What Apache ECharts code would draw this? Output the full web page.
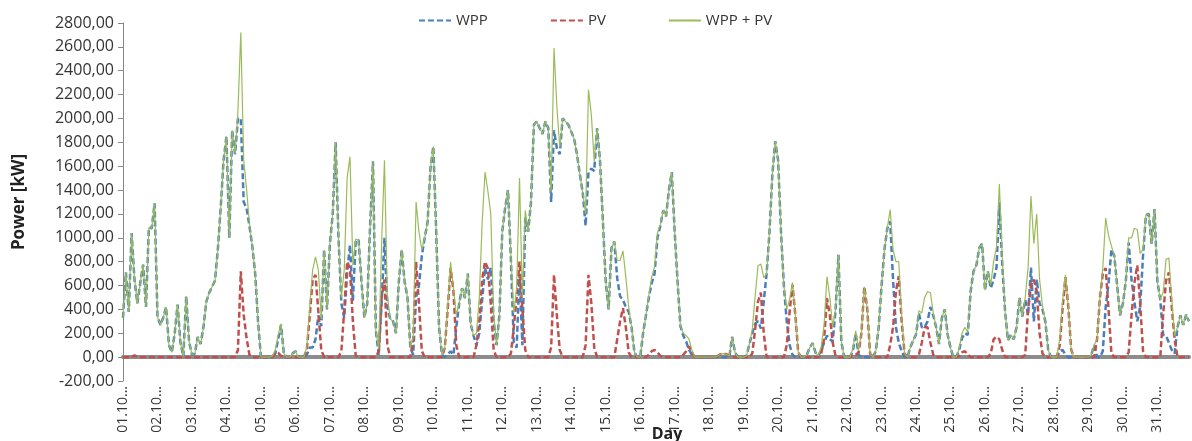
<!DOCTYPE html>
<html>
<head>
<meta charset="utf-8">
<script src="https://cdn.jsdelivr.net/npm/echarts@6/dist/echarts.min.js"></script>
<style>
  html, body { margin: 0; padding: 0; background: #fff; }
  #chart { width: 1192px; height: 441px; }
</style>
</head>
<body>
<div id="chart"></div>
<script>
// October, one value every 2 hours (00:00 ... 22:00), one line per day
const days = ['01.10.', '02.10.', '03.10.', '04.10.', '05.10.', '06.10.', '07.10.', '08.10.',
  '09.10.', '10.10.', '11.10.', '12.10.', '13.10.', '14.10.', '15.10.', '16.10.', '17.10.',
  '18.10.', '19.10.', '20.10.', '21.10.', '22.10.', '23.10.', '24.10.', '25.10.', '26.10.',
  '27.10.', '28.10.', '29.10.', '30.10.', '31.10.']
const hours = ['00:00', '02:00', '04:00', '06:00', '08:00', '10:00', '12:00', '14:00', '16:00', '18:00', '20:00', '22:00']

// wind power plant [kW]
const wpp = [
  330, 710, 380, 1040, 650, 450, 620, 775, 420, 1085, 1080, 1290,
  340, 270, 330, 420, 100, 40, 200, 440, 120, 5, 510, 130,
  20, 30, 170, 110, 250, 466, 540, 590, 640, 900, 1250, 1650,
  1850, 1000, 1900, 1700, 2000, 2000, 1300, 1250, 1100, 930, 700, 300,
  0, 0, 0, 0, 10, 30, 150, 270, 30, 0, 0, 30,
  50, 0, 0, 0, 20, 80, 80, 150, 350, 260, 900, 400,
  950, 1200, 1800, 1000, 450, 330, 700, 940, 470, 980, 980, 634,
  330, 450, 1100, 1640, 220, 20, 450, 1000, 420, 320, 300, 200,
  634, 900, 634, 500, 80, 20, 500, 600, 850, 1000, 1130, 1580,
  1765, 1053, 250, 20, 0, 20, 50, 20, 250, 450, 578, 494,
  700, 280, 180, 100, 200, 480, 750, 650, 750, 300, 100, 350,
  1053, 1250, 1400, 820, 120, 80, 700, 100, 1170, 1050, 1300, 1947,
  1975, 1920, 1870, 1975, 1920, 1300, 1900, 1750, 1700, 2000, 1975, 1947,
  1890, 1830, 1700, 1530, 1380, 1100, 1550, 1580, 1560, 1920, 1650, 1150,
  634, 400, 914, 969, 662, 510, 480, 420, 380, 250, 40, 0,
  0, 200, 350, 500, 620, 700, 1000, 1100, 1230, 1180, 1400, 1550,
  1050, 634, 260, 180, 130, 60, 20, 0, 0, 0, 0, 0,
  0, 0, 0, 0, 0, 0, 0, 0, 170, 40, 0, 0,
  0, 10, 110, 200, 280, 300, 240, 466, 700, 1050, 1530, 1810,
  1650, 1053, 600, 300, 103, 20, 0, 0, 0, 0, 20, 80,
  117, 40, 10, 60, 120, 180, 150, 130, 400, 858, 130, 0,
  0, 0, 50, 200, 20, 0, 0, 0, 0, 0, 50, 250,
  600, 900, 1080, 1137, 650, 250, 120, 50, 0, 0, 80, 140,
  190, 370, 250, 250, 300, 420, 350, 250, 110, 330, 400, 190,
  78, 0, 0, 60, 160, 200, 187, 550, 720, 770, 914, 950,
  560, 720, 578, 650, 750, 1300, 780, 380, 140, 187, 150, 250,
  500, 340, 480, 350, 750, 300, 650, 450, 400, 300, 60, 0,
  0, 0, 50, 60, 20, 0, 0, 0, 0, 0, 0, 0,
  0, 20, 100, 0, 0, 50, 420, 620, 900, 850, 600, 350,
  450, 634, 960, 650, 460, 300, 420, 850, 1190, 1200, 950, 1240,
  634, 480, 187, 180, 120, 60, 30, 250, 350, 271, 355, 300
]

// photovoltaics [kW]
const pv = [
  0, 0, 0, 0, 15, 0, 0, 0, 0, 0, 0, 0,
  0, 0, 0, 0, 0, 0, 0, 0, 0, 0, 0, 0,
  0, 0, 0, 0, 0, 0, 0, 0, 0, 0, 0, 0,
  0, 0, 0, 0, 60, 720, 355, 160, 20, 0, 0, 0,
  0, 0, 0, 0, 0, 30, 35, 10, 0, 0, 0, 0,
  0, 0, 0, 0, 70, 350, 650, 690, 380, 60, 0, 0,
  0, 0, 0, 0, 50, 400, 800, 740, 300, 10, 0, 0,
  0, 0, 0, 0, 0, 50, 500, 650, 100, 0, 0, 0,
  0, 0, 0, 0, 0, 150, 800, 450, 50, 0, 0, 0,
  0, 0, 0, 0, 80, 400, 746, 560, 100, 0, 0, 0,
  0, 0, 0, 100, 300, 650, 800, 740, 450, 60, 0, 0,
  0, 0, 0, 30, 250, 500, 800, 400, 60, 0, 0, 0,
  0, 0, 0, 0, 0, 80, 690, 350, 60, 0, 0, 0,
  0, 0, 0, 0, 0, 100, 690, 450, 80, 0, 0, 0,
  0, 0, 0, 0, 150, 300, 411, 250, 40, 0, 0, 0,
  0, 0, 0, 20, 50, 60, 40, 10, 0, 0, 0, 0,
  0, 0, 0, 20, 50, 90, 40, 0, 0, 0, 0, 0,
  0, 0, 0, 10, 25, 30, 25, 10, 0, 0, 0, 0,
  0, 0, 0, 30, 230, 466, 540, 200, 0, 0, 0, 0,
  0, 0, 0, 100, 380, 606, 350, 40, 0, 0, 0, 0,
  0, 0, 0, 30, 150, 494, 350, 120, 10, 0, 0, 0,
  0, 0, 20, 20, 40, 200, 590, 411, 30, 0, 0, 0,
  0, 0, 0, 100, 250, 550, 680, 300, 30, 0, 0, 0,
  0, 20, 120, 250, 250, 120, 20, 0, 0, 0, 0, 0,
  0, 0, 0, 10, 40, 50, 20, 0, 0, 0, 0, 0,
  0, 0, 30, 150, 170, 150, 60, 0, 0, 0, 0, 0,
  0, 0, 20, 400, 600, 650, 550, 200, 30, 0, 0, 0,
  0, 0, 100, 411, 670, 420, 60, 0, 0, 0, 0, 0,
  0, 0, 0, 150, 500, 700, 746, 400, 30, 0, 0, 0,
  0, 0, 40, 350, 620, 770, 450, 50, 0, 0, 0, 0,
  0, 0, 355, 640, 710, 420, 150, 0, 0, 0, 0, 0
]

const categories = []
days.forEach(d => hours.forEach(h => categories.push(d + ' ' + h)))
const total = wpp.map((v, i) => v + pv[i])

const font = 'Open Sans'
const chart = echarts.init(document.getElementById('chart'))
chart.setOption({
  animation: false,
  grid: { left: 123, right: 3, top: 23, bottom: 60, containLabel: false, outerBoundsMode: 'none' },
  legend: {
    data: ['WPP', 'PV', 'WPP + PV'],
    top: 8,
    left: 413,
    itemWidth: 32,
    itemHeight: 10,
    itemGap: 62,
    itemStyle: { opacity: 0 },
    textStyle: { fontFamily: font, fontSize: 15, color: '#333' }
  },
  xAxis: {
    type: 'category',
    data: categories,
    boundaryGap: false,
    axisLine: { onZero: true, lineStyle: { color: '#8c8c8c', width: 4 } },
    axisTick: { show: false },
    axisLabel: {
      interval: 11,
      rotate: 90,
      margin: 5,
      fontFamily: font,
      fontSize: 14,
      color: '#333',
      formatter: v => v.slice(0, 5) + '...'
    },
    name: 'Day',
    nameLocation: 'middle',
    nameGap: 45,
    nameMoveOverlap: false,
    nameTextStyle: { fontFamily: font, fontSize: 16, fontWeight: 'bold', color: '#222', padding: [0, 0, 0, 22] }
  },
  yAxis: {
    type: 'value',
    min: -200,
    max: 2800,
    interval: 200,
    axisLine: { show: true, lineStyle: { color: '#868686' } },
    axisTick: { show: true, length: 5, lineStyle: { color: '#868686' } },
    splitLine: { show: false },
    axisLabel: {
      margin: 9,
      fontFamily: font,
      fontSize: 16,
      color: '#333',
      formatter: v => v.toFixed(2).replace('.', ',')
    },
    name: 'Power [kW]',
    nameLocation: 'middle',
    nameGap: 95,
    nameMoveOverlap: false,
    nameTextStyle: { fontFamily: font, fontSize: 17, fontWeight: 'bold', color: '#222' }
  },
  series: [
    {
      name: 'WPP',
      type: 'line',
      data: wpp,
      symbol: 'none',
      itemStyle: { color: '#4a7ebb' },
      lineStyle: { color: '#4a7ebb', width: 2.5, type: [6, 3] }
    },
    {
      name: 'PV',
      type: 'line',
      data: pv,
      symbol: 'none',
      itemStyle: { color: '#c0504d' },
      lineStyle: { color: '#c0504d', width: 2.5, type: [6, 3] }
    },
    {
      name: 'WPP + PV',
      type: 'line',
      data: total,
      symbol: 'none',
      itemStyle: { color: '#9bbb59' },
      lineStyle: { color: '#9bbb59', width: 1.2 }
    }
  ]
})
</script>
</body>
</html>
